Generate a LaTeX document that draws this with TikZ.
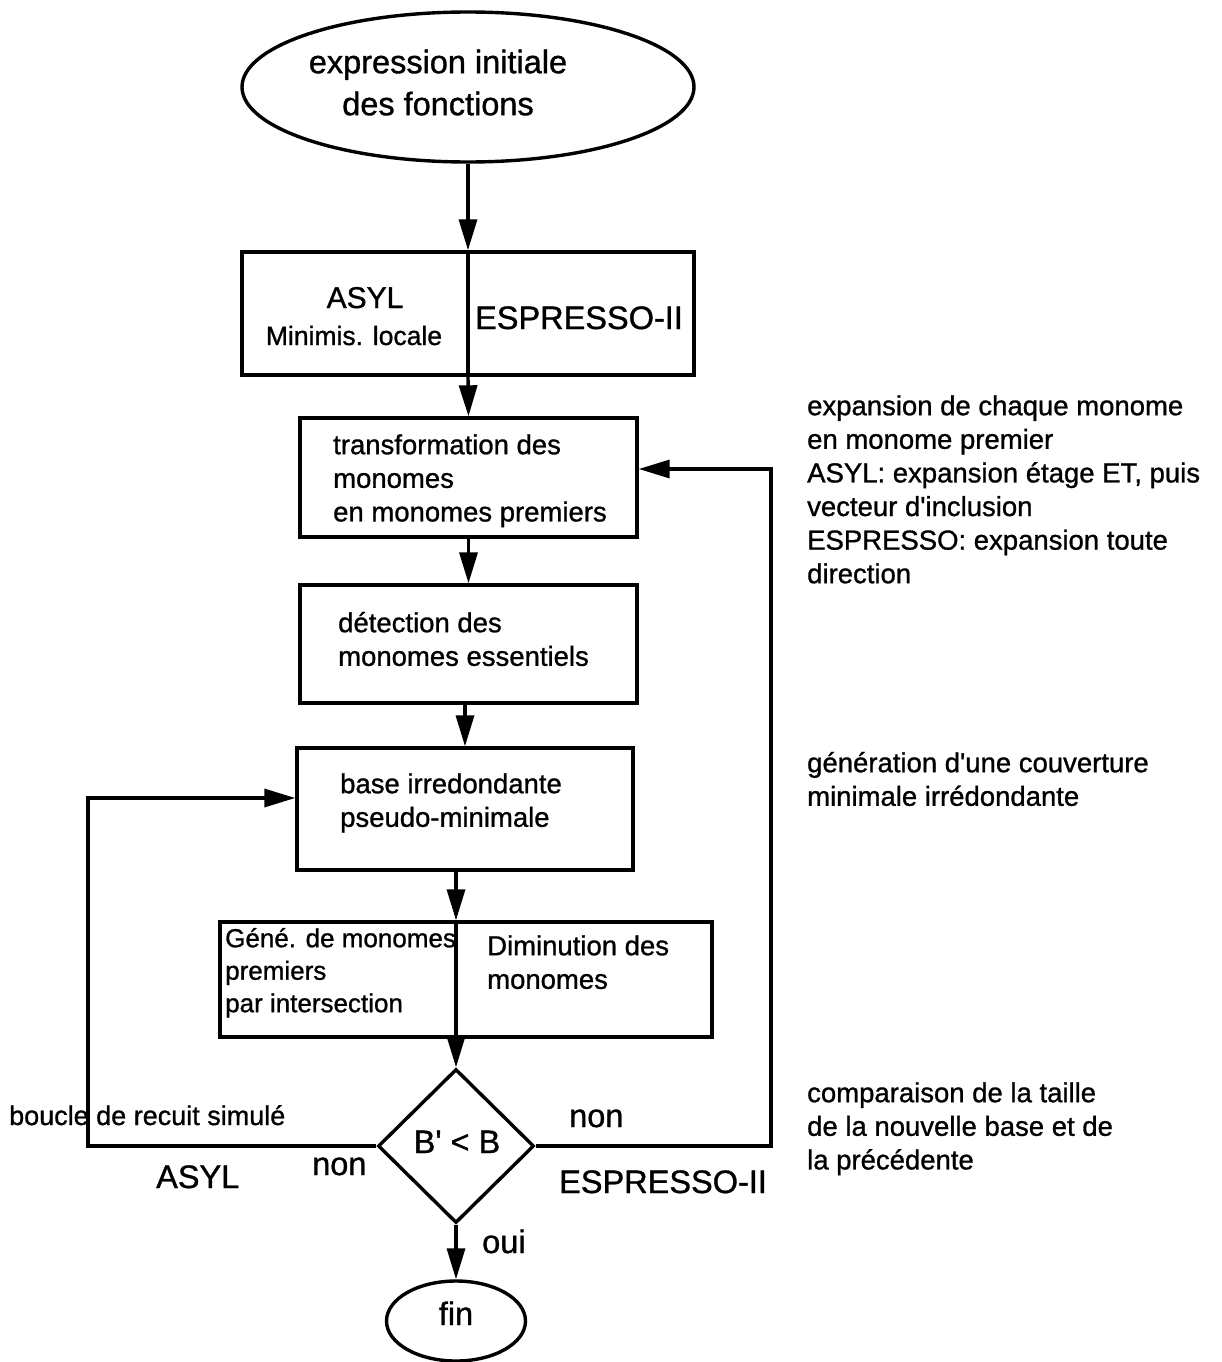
\documentclass[tikz,border=0pt]{standalone}
\usepackage{fontspec}
\setmainfont{Liberation Sans}[Ligatures=TeXOff, BoldFont={Liberation Sans}, BoldFeatures={FakeBold=1.0}]
\usetikzlibrary{arrows.meta,shapes.geometric}
\newcommand{\fst}{\rule{0pt}{22pt}}
\newcommand{\fsb}{\rule{0pt}{25pt}}
\begin{document}
\begin{tikzpicture}[x=1pt,y=-1pt,
  every node/.style={font=\bfseries},
  lw/.style={line width=3.4pt},
  boxnode/.style={draw, rectangle, line width=3.4pt, inner sep=0pt},
  txt/.style={inner sep=0pt, anchor=north west, align=left, font=\fontsize{27.5}{33.6}\selectfont\bfseries},
  big/.style={inner sep=0pt, font=\fontsize{32.5}{42}\selectfont\bfseries},
  arr/.style={line width=3.4pt, -{Triangle[length=31pt,width=18pt]}}
]
\useasboundingbox (0,0) rectangle (1222,1362);

% start ellipse
\node[draw, ellipse, lw, minimum width=452, minimum height=150, inner sep=0pt] (e1) at (468,87) {};
\node[big, anchor=north, align=center] (e1t) at (438,48) {\fsb expression initiale\\des fonctions};

% box 1 (ASYL / ESPRESSO-II)
\node[boxnode, minimum width=452, minimum height=123] (b1) at (468,313.5) {};
\node[inner sep=0pt, anchor=base, font=\fontsize{30}{36}\selectfont\bfseries] (b1a) at (365,308) {ASYL};
\node[inner sep=0pt, anchor=base, font=\fontsize{26.5}{32}\selectfont\bfseries] (b1b) at (354,345) {Minimis. locale};
\node[big, anchor=base] (b1c) at (579,329) {ESPRESSO-II};

% box 2
\node[boxnode, minimum width=337, minimum height=119] (b2) at (468.5,477.5) {};
\node[txt] (b2t) at (333,432) {\fst transformation des\\monomes\\en monomes premiers};

% box 3
\node[boxnode, minimum width=337, minimum height=118] (b3) at (468.5,644) {};
\node[txt] (b3t) at (338,610) {\fst d\'etection des\\monomes essentiels};

% box 4
\node[boxnode, minimum width=336, minimum height=122] (b4) at (465,809) {};
\node[txt] (b4t) at (340,771) {\fst base irredondante\\pseudo-minimale};

% box 5
\node[boxnode, minimum width=492, minimum height=115] (b5) at (466,979.5) {};
\node[txt, font=\fontsize{26}{32.5}\selectfont\bfseries] (b5l) at (225,925) {\fst G\'en\'e. de monomes\\premiers\\par intersection};
\node[txt] (b5r) at (487,933) {\fst Diminution des\\monomes};
\coordinate (v5n) at ([xshift=-10pt]b5.north);
\coordinate (v5s) at ([xshift=-10pt]b5.south);

% decision
\node[draw, diamond, lw, minimum width=156, minimum height=154, inner sep=0pt] (d) at (456,1146) {};
\node[big, anchor=base] (dt) at (457,1153) {B' < B};

% end ellipse
\node[draw, ellipse, lw, minimum width=139, minimum height=80, inner sep=0pt,
      font=\fontsize{32.5}{40}\selectfont\bfseries, text height=24pt, text depth=16pt] (f) at (456,1321) {fin};

% loop corner coordinates
\coordinate (lp) at (88,798);
\coordinate (rp) at (771,469);

% connectors
\draw[arr] (e1.south) -- (b1.north);
\draw[lw] (b1.north) -- (b1.south);
\draw[arr] (b1.south) -- (b2.north);
\draw[arr] (b2.south) -- (b3.north);
\draw[arr] (b3.south -| b4.north) -- (b4.north);
\draw[arr] (b4.south -| v5n) -- (v5n);
\draw[lw] (v5n) -- (v5s);
\draw[arr] (v5s) -- (d.north);
\draw[arr] (d.south) -- (f.north);
\draw[arr] (d.west) -| (lp) -- (lp -| b4.west);
\draw[arr] (d.east) -| (rp) -- (rp -| b2.east);

% connector labels
\node[big, anchor=base west] (oui) at (482,1253) {oui};
\node[big, anchor=base west] (nonl) at (312,1175) {non};
\node[big, anchor=base west] (asyl) at (156,1188) {ASYL};
\node[big, anchor=base west] (nonr) at (569,1127) {non};
\node[big, anchor=base west] (esp) at (559,1193) {ESPRESSO-II};
\node[inner sep=0pt, anchor=base west, font=\fontsize{27}{33}\selectfont\bfseries] (boucle) at (9,1125) {boucle de recuit simul\'e};

% annotations
\node[txt] (ann1) at (807,393) {\fst expansion de chaque monome\\en monome premier\\ASYL: expansion \'etage ET, puis\\vecteur d'inclusion\\ESPRESSO: expansion toute\\direction};
\node[txt] (ann2) at (807,750) {\fst g\'en\'eration d'une couverture\\minimale irr\'edondante};
\node[txt] (ann3) at (807,1080) {\fst comparaison de la taille\\de la nouvelle base et de\\la pr\'ec\'edente};
\end{tikzpicture}
\end{document}
